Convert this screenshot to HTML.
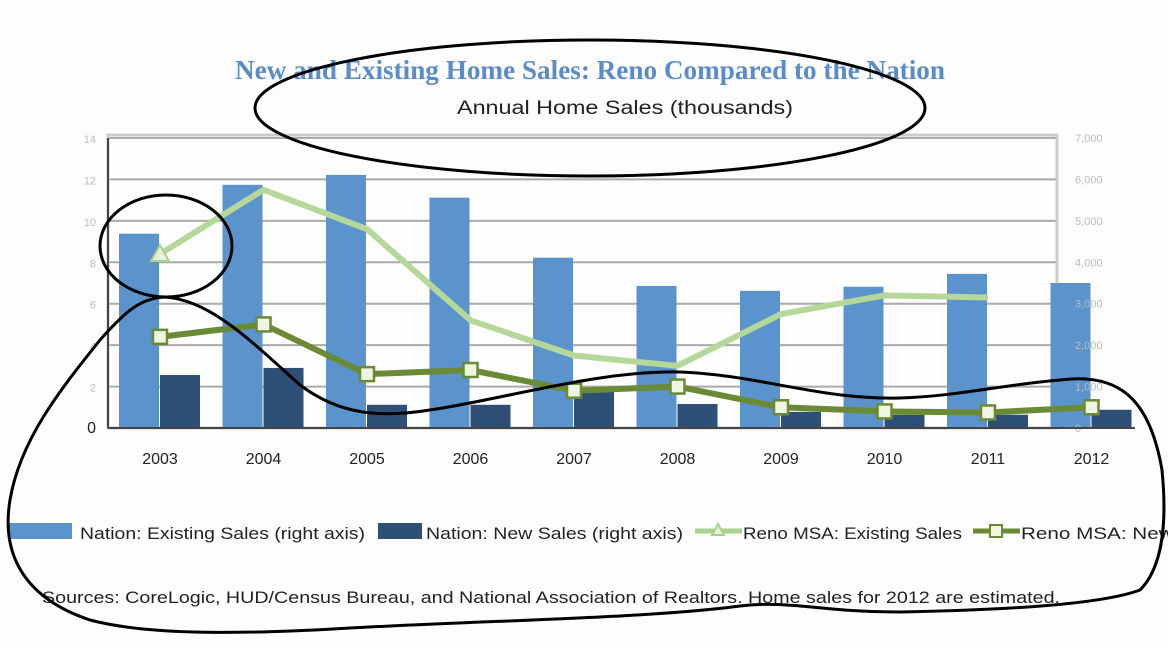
<!DOCTYPE html>
<html><head><meta charset="utf-8"><style>
body{margin:0;background:#fff;}
svg{display:block;font-family:"Liberation Sans",sans-serif;}
</style></head><body>
<svg width="1168" height="646" viewBox="0 0 1168 646">
<rect x="0" y="0" width="1168" height="646" fill="#fdfdfd"/>
<text x="590" y="79" text-anchor="middle" font-family="Liberation Serif,serif" font-size="27" font-weight="bold" fill="#5b8cc7" textLength="710" lengthAdjust="spacingAndGlyphs">New and Existing Home Sales: Reno Compared to the Nation</text>
<text x="625" y="114" text-anchor="middle" font-size="19" fill="#222" textLength="336" lengthAdjust="spacingAndGlyphs">Annual Home Sales (thousands)</text>
<g id="grid"></g>
<g id="bars"></g>
<g id="lines"></g>
<g id="axes"></g>
<g font-size="17" fill="#222">
<rect x="8" y="523" width="64" height="16" fill="#5b93cc"/>
<text x="80" y="539" textLength="285" lengthAdjust="spacingAndGlyphs">Nation: Existing Sales (right axis)</text>
<rect x="378" y="523" width="44" height="16" fill="#2e5077"/>
<text x="426" y="539" textLength="257" lengthAdjust="spacingAndGlyphs">Nation: New Sales (right axis)</text>
<line x1="695" y1="531" x2="742" y2="531" stroke="#a9d18e" stroke-width="5"/>
<polygon points="718,524 724,535 712,535" fill="#e6f2d8" stroke="#a9d18e" stroke-width="2"/>
<text x="743" y="539" textLength="219" lengthAdjust="spacingAndGlyphs">Reno MSA: Existing Sales</text>
<line x1="973" y1="531" x2="1020" y2="531" stroke="#6a8a35" stroke-width="5"/>
<rect x="990" y="525" width="12" height="12" fill="#eef5e0" stroke="#6a8a35" stroke-width="2"/>
<text x="1021" y="539" textLength="210" lengthAdjust="spacingAndGlyphs">Reno MSA: New Sales</text>
</g>
<text x="42" y="603" font-size="17" fill="#222" textLength="1018" lengthAdjust="spacingAndGlyphs">Sources: CoreLogic, HUD/Census  Bureau, and National Association of Realtors. Home sales for 2012 are estimated.</text>
<g fill="none" stroke="#000" stroke-width="3">
<ellipse cx="590" cy="108" rx="335" ry="68"/>
<ellipse cx="166" cy="246" rx="66" ry="51"/>
<path d="M165,297 C210,300 250,340 300,385 C340,415 380,418 430,410 C500,400 600,370 680,372 C760,375 820,400 900,398 C960,396 1000,385 1060,380 C1120,372 1150,400 1162,470 C1168,530 1160,570 1140,590 C1100,605 1000,610 900,612 C820,612 790,600 740,606 C650,618 500,620 350,628 C250,634 150,636 90,620 C30,600 0,560 10,500 C20,440 60,390 100,340 C125,312 140,298 165,297 Z"/>
</g>
</svg>
<script>
const categories=["2003","2004","2005","2006","2007","2008","2009","2010","2011","2012"];
const nationExisting=[4690,5870,6110,5560,4110,3430,3310,3410,3720,3500];
const nationNew=[1280,1450,560,560,940,580,390,320,320,440];
const renoExisting=[8.4,11.5,9.6,5.2,3.5,3.0,5.5,6.4,6.3,null];
const renoNew=[4.4,5.0,2.6,2.8,1.8,2.0,1.0,0.8,0.75,1.0];
const leftTicks=[0,2,4,6,8,10,12,14];
const rightTicks=["0","1,000","2,000","3,000","4,000","5,000","6,000","7,000"];
const NS="http://www.w3.org/2000/svg";
const x0=108,step=103.5,y0=428,yTop=138;
const xc=i=>x0+52+i*step;
const yR=v=>y0-(v/7000)*(y0-yTop);
const yL=v=>y0-(v/14)*(y0-yTop);
function mk(t,a,p){const e=document.createElementNS(NS,t);for(const k in a)e.setAttribute(k,a[k]);p.appendChild(e);return e;}
const grid=document.getElementById('grid'),bars=document.getElementById('bars'),lines=document.getElementById('lines'),axes=document.getElementById('axes');
leftTicks.forEach((v,i)=>{
 const y=yL(v);
 const g=mk('line',{x1:x0,x2:1057,y1:y,y2:y,stroke:i==0?'#444':'#aaa','stroke-width':2},grid);
 
 
 const t=mk('text',{x:96,y:y+5,'text-anchor':'end','font-size':i==0?16:11,fill:i==0?'#222':'#bbb'},axes);
 t.textContent=v;
 
 
 const r=mk('text',{x:1075,y:y+4,'font-size':11,fill:'#bbb'},axes);
 r.textContent=rightTicks[i];
 
 
});
const fr=mk('rect',{x:x0,y:yTop-3,width:1057-x0,height:y0-yTop+3,fill:'none',stroke:'#ccc','stroke-width':3},grid);


const base=mk('line',{x1:x0,x2:1135,y1:y0,y2:y0,stroke:'#444','stroke-width':2},axes);


const ya=mk('line',{x1:x0,x2:x0,y1:yTop,y2:y0,stroke:'#444','stroke-width':2},axes);


categories.forEach((c,i)=>{
 const cx=xc(i);
 const b1=mk('rect',{x:cx-41,y:yR(nationExisting[i]),width:40,height:y0-yR(nationExisting[i]),fill:'#5b93cc'},bars);
 
 
 const b2=mk('rect',{x:cx,y:yR(nationNew[i]),width:40,height:y0-yR(nationNew[i]),fill:'#2e5077'},bars);
 
 
 const t=mk('text',{x:cx,y:464,'text-anchor':'middle','font-size':16,fill:'#222'},axes);
 t.textContent=c;
 
 
});
function line(vals,yf,color,name){
 const pts=vals.map((v,i)=>v==null?null:[xc(i),yf(v)]).filter(p=>p);
 const pl=mk('polyline',{points:pts.map(p=>p.join(',')).join(' '),fill:'none',stroke:color,'stroke-width':6,'stroke-linejoin':'round'},lines);
 
 
 return pts;
}
const pe=line(renoExisting,yL,'#b5d89a','line-reno-existing');
const tri=mk('polygon',{points:`${pe[0][0]},${pe[0][1]-9} ${pe[0][0]+9},${pe[0][1]+7} ${pe[0][0]-9},${pe[0][1]+7}`,fill:'#e6f2d8',stroke:'#a9d18e','stroke-width':2},lines);


const pn=line(renoNew,yL,'#6a8a35','line-reno-new');
pn.forEach(p=>{
 const m=mk('rect',{x:p[0]-7,y:p[1]-7,width:14,height:14,fill:'#eef5e0',stroke:'#6a8a35','stroke-width':2.5},lines);
 
 
});
</script>
</body></html>
